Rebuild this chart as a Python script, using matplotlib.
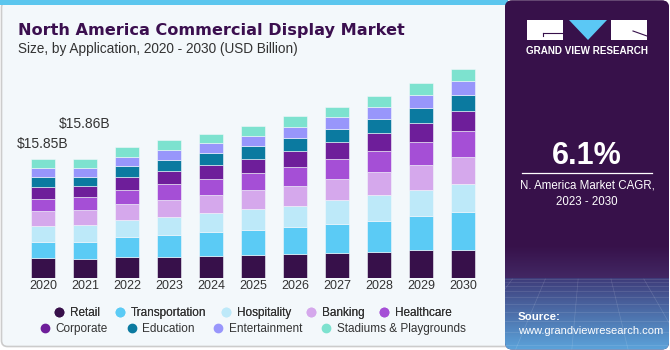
import numpy as np
import matplotlib.pyplot as plt
from matplotlib.patches import FancyBboxPatch, Rectangle, Polygon
from matplotlib.lines import Line2D

plt.rcParams['font.family'] = ['Liberation Sans', 'DejaVu Sans']

years = ['2020', '2021', '2022', '2023', '2024', '2025', '2026', '2027', '2028', '2029', '2030']
segments = ['Retail', 'Transportation', 'Hospitality', 'Banking', 'Healthcare',
            'Corporate', 'Education', 'Entertainment', 'Stadiums & Playgrounds']

# USD billion
retail = [2.62, 2.49, 2.80, 2.84, 2.93, 3.11, 3.24, 3.37, 3.46, 3.69, 3.77]
transportation = [2.22, 2.35, 2.66, 2.93, 3.15, 3.33, 3.51, 3.86, 4.17, 4.53, 5.06]
hospitality = [2.13, 2.22, 2.31, 2.40, 2.62, 2.71, 2.80, 3.11, 3.37, 3.46, 3.69]
banking = [1.91, 1.95, 2.13, 2.26, 2.40, 2.53, 2.75, 2.89, 3.06, 3.42, 3.60]
healthcare = [1.69, 1.78, 1.82, 2.04, 2.13, 2.26, 2.53, 2.58, 2.89, 3.02, 3.42]
corporate = [1.60, 1.42, 1.78, 1.78, 1.87, 1.95, 2.13, 2.31, 2.31, 2.58, 2.71]
education = [1.24, 1.29, 1.42, 1.51, 1.51, 1.73, 1.69, 1.78, 1.87, 1.91, 2.13]
entertainment = [1.20, 1.15, 1.24, 1.33, 1.33, 1.33, 1.51, 1.55, 1.69, 1.82, 1.91]
stadiums = [1.24, 1.20, 1.24, 1.24, 1.29, 1.33, 1.38, 1.38, 1.47, 1.51, 1.55]

labels = {0: '$15.85B', 1: '$15.86B'}

colors = ['#37104A', '#5BCBF5', '#BDE9F9', '#D5A8EC', '#A54FD6',
          '#6E1E9A', '#0B7AA0', '#9896FB', '#7DE2CF']

bg_col = '#F3F8FB'

fig = plt.figure(figsize=(6.7, 3.5), dpi=100)
fig.patch.set_facecolor('white')

# background layer in pixel coords
bg = fig.add_axes([0, 0, 1, 1], zorder=-1)
bg.set_xlim(0, 670)
bg.set_ylim(350, 0)
bg.axis('off')

bg.add_patch(FancyBboxPatch((1.5, 1.5), 660, 345, boxstyle='round,pad=0,rounding_size=6',
                            fc=bg_col, ec='#CCCCCC', lw=1.2))
bg.add_patch(Rectangle((0, 0), 508, 5, fc='#5BC6EE', ec='none'))

# right panel
panel = FancyBboxPatch((505, 0.5), 164, 349, boxstyle='round,pad=0,rounding_size=7',
                       fc='#37114A', ec='none')
bg.add_patch(panel)
top_c = np.array([55, 17, 74]) / 255
mid_c = np.array([66, 40, 100]) / 255
low_c = np.array([62, 60, 122]) / 255
bot_c = np.array([92, 165, 220]) / 255
grad = np.zeros((350, 1, 3))
for r in range(350):
    if r < 245:
        grad[r, 0] = top_c
    elif r < 278:
        t = (r - 245) / 33
        grad[r, 0] = top_c * (1 - t) + mid_c * t
    else:
        t = (r - 278) / 72
        grad[r, 0] = low_c * (1 - t) + bot_c * t
im = bg.imshow(grad, extent=[505, 670, 350, 0], aspect='auto', zorder=1)
im.set_clip_path(panel)

# faint perspective grid on the panel bottom
for y in [279, 282, 286, 291, 297, 304, 312, 321, 332, 345]:
    ln, = bg.plot([505, 670], [y, y], color='white', alpha=0.14, lw=0.5, zorder=2)
    ln.set_clip_path(panel)
vx, vy = 587, 180
t0 = (279 - vy) / (350 - vy)
for xb in np.linspace(-500, 1700, 40):
    ln, = bg.plot([vx + (xb - vx) * t0, xb], [279, 350], color='white', alpha=0.14,
                  lw=0.5, zorder=2)
    ln.set_clip_path(panel)

# logo
bg.add_patch(Rectangle((527, 20), 36, 20, fc='white', ec='none', zorder=3))
bg.plot([543, 563], [33, 33], color='#37114A', lw=0.8, zorder=4)
bg.plot([543, 543], [33, 36], color='#37114A', lw=0.8, zorder=4)
bg.add_patch(Polygon([(569, 20), (607, 20), (588, 40)], fc='#5BC8F5', ec='none', zorder=3))
bg.add_patch(Rectangle((611, 20), 36, 20, fc='white', ec='none', zorder=3))
bg.plot([633, 647], [31, 36], color='#37114A', lw=0.8, zorder=4)
bg.text(587, 51, 'GRAND VIEW RESEARCH', color='white', fontsize=7.1, fontweight='bold',
        ha='center', va='center', zorder=4)

bg.text(587, 156, '6.1%', color='white', fontsize=22, fontweight='bold',
        ha='center', va='center', zorder=4)
bg.plot([522, 652], [173, 173], color='white', lw=0.9, zorder=4)
bg.text(587, 186, 'N. America Market CAGR,', color='white', fontsize=8.3,
        ha='center', va='center', zorder=4)
bg.text(587, 202, '2023 - 2030', color='white', fontsize=8.3,
        ha='center', va='center', zorder=4)
bg.text(518, 317, 'Source:', color='white', fontsize=8.2, fontweight='bold',
        ha='left', va='center', zorder=4)
bg.text(518, 331, 'www.grandviewresearch.com', color='white', fontsize=8,
        ha='left', va='center', zorder=4)

# titles
bg.text(18, 35, 'North America Commercial Display Market', color='#3B0F4F',
        fontsize=11.6, fontweight='bold', family='DejaVu Sans', ha='left', va='baseline')
bg.text(18, 53, 'Size, by Application, 2020 - 2030 (USD Billion)', color='#333333',
        fontsize=9.8, ha='left', va='baseline')

# chart
ax = fig.add_axes([9.4 / 670, 72 / 350, 487.2 / 670, 225.2 / 350])
ax.set_facecolor('none')
x = np.arange(len(years))
series = [retail, transportation, hospitality, banking, healthcare,
          corporate, education, entertainment, stadiums]
bottom = np.zeros(len(years))
for vals, c in zip(series, colors):
    ax.bar(x, vals, bottom=bottom, width=0.57, color=c, edgecolor=bg_col, linewidth=0.4)
    bottom += np.array(vals)

ax.text(0, bottom[0] + 2.0, labels[0], ha='center', va='center', fontsize=10, color='#333333')
ax.text(1, bottom[1] + 4.6, labels[1], ha='center', va='center', fontsize=10, color='#333333')

ax.set_xlim(-0.8, 10.8)
ax.set_ylim(0, 30)
ax.set_xticks(x, years)
ax.tick_params(axis='x', length=0, pad=1.5, labelsize=9, labelcolor='#333333')
ax.set_yticks([])
for s in ax.spines.values():
    s.set_visible(False)

handles = [Line2D([], [], marker='o', ls='none', ms=6, color=c) for c in colors]
leg1 = fig.legend(handles[:5], segments[:5], loc='center', bbox_to_anchor=(253 / 670, 1 - 313 / 350),
                  ncol=5, frameon=False, fontsize=8.5, handlelength=0.8, handletextpad=0.5,
                  columnspacing=1.3, labelcolor='#333333')
fig.legend(handles[5:], segments[5:], loc='center', bbox_to_anchor=(253 / 670, 1 - 329 / 350),
           ncol=4, frameon=False, fontsize=8.5, handlelength=0.8, handletextpad=0.5,
           columnspacing=1.6, labelcolor='#333333')
fig.add_artist(leg1)

fig.savefig('out.png', dpi=100)
